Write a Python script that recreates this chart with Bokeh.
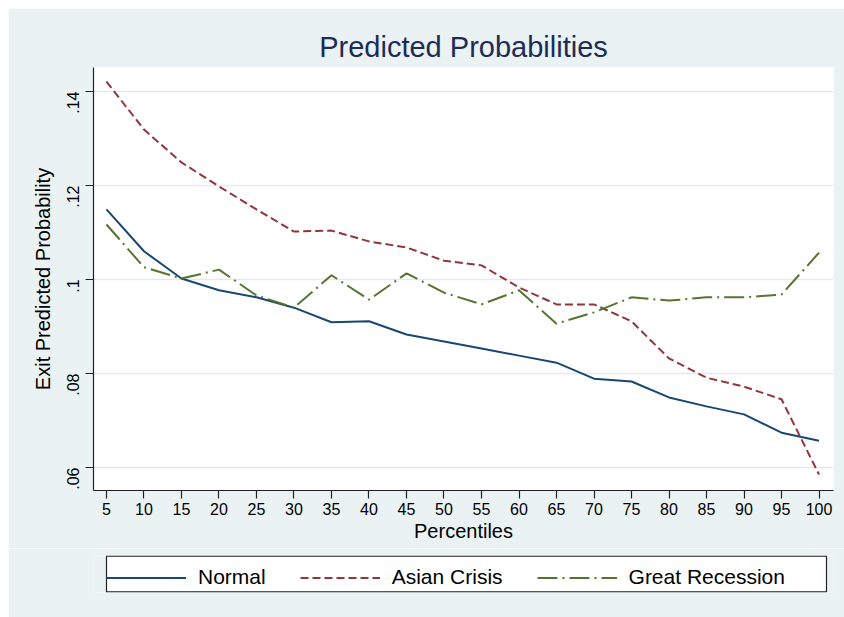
import math
from bokeh.plotting import figure
from bokeh.layouts import column
from bokeh.models import Legend, LegendItem, FixedTicker, Range1d, BoxAnnotation
from bokeh.embed import file_html
from bokeh.resources import INLINE

# ---- data ----
percentiles = [5, 10, 15, 20, 25, 30, 35, 40, 45, 50, 55, 60, 65, 70, 75, 80, 85, 90, 95, 100]
normal = [0.1149, 0.1060, 0.1002, 0.0977, 0.0962, 0.0940, 0.0909, 0.0911, 0.0883, 0.0868,
          0.0853, 0.0838, 0.0823, 0.0789, 0.0783, 0.0749, 0.0730, 0.0713, 0.0674, 0.0657]
asian_crisis = [0.1421, 0.1319, 0.1249, 0.1198, 0.1149, 0.1102, 0.1104, 0.1081, 0.1068, 0.1040,
                0.1030, 0.0983, 0.0947, 0.0947, 0.0911, 0.0832, 0.0791, 0.0772, 0.0745, 0.0585]
great_recession = [0.1117, 0.1026, 0.1002, 0.1021, 0.0966, 0.0940, 0.1009, 0.0957, 0.1013, 0.0972,
                   0.0947, 0.0977, 0.0906, 0.0930, 0.0962, 0.0955, 0.0962, 0.0962, 0.0968, 0.1057]
y_ticks = [0.06, 0.08, 0.10, 0.12, 0.14]
y_tick_labels = [".06", ".08", ".1", ".12", ".14"]
series_names = ["Normal", "Asian Crisis", "Great Recession"]
series_colors = ["#1a476f", "#90353b", "#55752f"]
series_dashes = ["solid", "8 4", "20 5 2 5"]
series_values = [normal, asian_crisis, great_recession]

FONT = "Liberation Sans"
BG = "#EAF2F3"

# ---- main chart ----
p = figure(frame_width=740, frame_height=423, output_backend="svg", toolbar_location=None,
           x_range=Range1d(3.27, 101.93), y_range=Range1d(0.0551, 0.1451),
           background_fill_color="white", border_fill_color=BG,
           min_border_left=85, min_border_right=11, min_border_top=59, min_border_bottom=58)
p.margin = (8, 0, 0, 8)
p.outline_line_color = None

p.title.text = "Predicted Probabilities"
p.title.align = "center"
p.title.text_font = FONT
p.title.text_font_size = "29px"
p.title.text_font_style = "normal"
p.title.text_color = "#1c2c55"
p.title.standoff = 10

p.xaxis.ticker = FixedTicker(ticks=percentiles)
p.yaxis.ticker = FixedTicker(ticks=y_ticks)
p.yaxis.major_label_overrides = {t: l for t, l in zip(y_ticks, y_tick_labels)}
p.yaxis.major_label_orientation = math.pi / 2
p.xaxis.axis_label = "Percentiles"
p.yaxis.axis_label = "Exit Predicted Probability"
for ax in (p.xaxis[0], p.yaxis[0]):
    ax.axis_line_color = "#222222"
    ax.axis_line_width = 1.2
    ax.major_tick_line_color = "#222222"
    ax.major_tick_line_width = 1.2
    ax.major_tick_out = 8
    ax.major_tick_in = 0
    ax.minor_tick_line_color = None
    ax.major_label_text_font = FONT
    ax.major_label_text_font_size = "16px"
    ax.major_label_text_color = "#000000"
    ax.axis_label_text_font = FONT
    ax.axis_label_text_font_size = "20px"
    ax.axis_label_text_font_style = "normal"
    ax.axis_label_text_color = "#000000"
p.xaxis.major_label_standoff = 4
p.xaxis.axis_label_standoff = 2
p.yaxis.major_label_standoff = 12
p.yaxis.axis_label_standoff = 5

p.xgrid.grid_line_color = None
p.ygrid.grid_line_color = "#E2EAED"
p.ygrid.grid_line_width = 1.5

for vals, col, dash in zip(series_values, series_colors, series_dashes):
    p.line(percentiles, vals, line_color=col, line_width=2, line_dash=dash)

# ---- legend strip (same frame geometry as the chart, 1 unit = 1 px) ----
lg = figure(frame_width=740, frame_height=37, output_backend="svg", toolbar_location=None,
            x_range=Range1d(0, 740), y_range=Range1d(0, 37),
            x_axis_location=None, y_axis_location=None,
            background_fill_color=BG, border_fill_color=BG,
            min_border_left=85, min_border_right=11, min_border_top=7, min_border_bottom=25)
lg.margin = (0, 0, 0, 8)
lg.grid.grid_line_color = None
lg.outline_line_color = None

box = BoxAnnotation(left=13, right=733, bottom=0.6, top=36.4, level="underlay",
                    fill_color="white", fill_alpha=1.0,
                    line_color="#222222", line_width=1.2, line_alpha=1.0)
lg.add_layout(box)

items = []
for name, col, dash in zip(series_names, series_colors, series_dashes):
    # key-only renderer: its points lie outside the strip's visible range
    r = lg.line([-50, -40], [-50, -40], line_color=col, line_width=2, line_dash=dash)
    items.append(LegendItem(label=name, renderers=[r]))

legend = Legend(items=items, orientation="horizontal", location=(13, 3))
legend.label_text_font = FONT
legend.label_text_font_size = "21px"
legend.label_text_color = "#000000"
legend.glyph_width = 80
legend.glyph_height = 21
legend.label_standoff = 12
legend.spacing = 34
legend.padding = 11
legend.margin = 0
legend.border_line_color = None
legend.background_fill_alpha = 0
lg.add_layout(legend, "center")

layout = column(p, lg, spacing=0)
open("out.html", "w").write(file_html(layout, INLINE))
